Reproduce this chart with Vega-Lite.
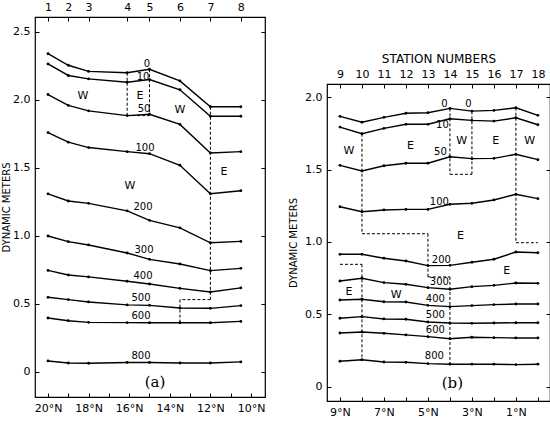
{
  "$schema": "https://vega.github.io/schema/vega-lite/v6.json",
  "padding": {"left": 0, "top": 0, "right": 0, "bottom": 0},
  "spacing": 20,
  "config": {
    "font": "DejaVu Sans",
    "view": {"stroke": "black", "strokeWidth": 1.2},
    "axis": {
      "domain": false,
      "grid": false,
      "tickColor": "black",
      "tickSize": -4,
      "tickWidth": 1,
      "labelColor": "black",
      "labelFont": "DejaVu Sans",
      "labelFontSize": 11,
      "labelPadding": 9,
      "titleFont": "DejaVu Sans",
      "titleFontSize": 10,
      "titleFontWeight": "normal",
      "titleColor": "black"
    }
  },
  "datasets": {
    "linesA": [
      {"depth": 0, "lat": 20, "dyn": 2.34}, {"depth": 0, "lat": 19, "dyn": 2.255}, {"depth": 0, "lat": 18, "dyn": 2.21}, {"depth": 0, "lat": 16.1, "dyn": 2.2}, {"depth": 0, "lat": 15, "dyn": 2.226}, {"depth": 0, "lat": 13.5, "dyn": 2.14}, {"depth": 0, "lat": 12, "dyn": 1.95}, {"depth": 0, "lat": 10.5, "dyn": 1.95},
      {"depth": 10, "lat": 20, "dyn": 2.265}, {"depth": 10, "lat": 19, "dyn": 2.18}, {"depth": 10, "lat": 18, "dyn": 2.155}, {"depth": 10, "lat": 16.1, "dyn": 2.13}, {"depth": 10, "lat": 15, "dyn": 2.15}, {"depth": 10, "lat": 13.5, "dyn": 2.075}, {"depth": 10, "lat": 12, "dyn": 1.88}, {"depth": 10, "lat": 10.5, "dyn": 1.88},
      {"depth": 50, "lat": 20, "dyn": 2.04}, {"depth": 50, "lat": 19, "dyn": 1.96}, {"depth": 50, "lat": 18, "dyn": 1.92}, {"depth": 50, "lat": 16.1, "dyn": 1.885}, {"depth": 50, "lat": 15, "dyn": 1.895}, {"depth": 50, "lat": 13.5, "dyn": 1.82}, {"depth": 50, "lat": 12, "dyn": 1.61}, {"depth": 50, "lat": 10.5, "dyn": 1.62},
      {"depth": 100, "lat": 20, "dyn": 1.76}, {"depth": 100, "lat": 19, "dyn": 1.69}, {"depth": 100, "lat": 18, "dyn": 1.65}, {"depth": 100, "lat": 16.1, "dyn": 1.62}, {"depth": 100, "lat": 15, "dyn": 1.605}, {"depth": 100, "lat": 13.5, "dyn": 1.52}, {"depth": 100, "lat": 12, "dyn": 1.31}, {"depth": 100, "lat": 10.5, "dyn": 1.333},
      {"depth": 200, "lat": 20, "dyn": 1.31}, {"depth": 200, "lat": 19, "dyn": 1.257}, {"depth": 200, "lat": 18, "dyn": 1.24}, {"depth": 200, "lat": 16.1, "dyn": 1.185}, {"depth": 200, "lat": 15, "dyn": 1.115}, {"depth": 200, "lat": 13.5, "dyn": 1.06}, {"depth": 200, "lat": 12, "dyn": 0.95}, {"depth": 200, "lat": 10.5, "dyn": 0.96},
      {"depth": 300, "lat": 20, "dyn": 1.0}, {"depth": 300, "lat": 19, "dyn": 0.958}, {"depth": 300, "lat": 18, "dyn": 0.934}, {"depth": 300, "lat": 16.1, "dyn": 0.875}, {"depth": 300, "lat": 15, "dyn": 0.828}, {"depth": 300, "lat": 13.5, "dyn": 0.794}, {"depth": 300, "lat": 12, "dyn": 0.745}, {"depth": 300, "lat": 10.5, "dyn": 0.762},
      {"depth": 400, "lat": 20, "dyn": 0.747}, {"depth": 400, "lat": 19, "dyn": 0.713}, {"depth": 400, "lat": 18, "dyn": 0.699}, {"depth": 400, "lat": 16.1, "dyn": 0.667}, {"depth": 400, "lat": 15, "dyn": 0.647}, {"depth": 400, "lat": 13.5, "dyn": 0.615}, {"depth": 400, "lat": 12, "dyn": 0.588}, {"depth": 400, "lat": 10.5, "dyn": 0.618},
      {"depth": 500, "lat": 20, "dyn": 0.549}, {"depth": 500, "lat": 19, "dyn": 0.532}, {"depth": 500, "lat": 18, "dyn": 0.515}, {"depth": 500, "lat": 16.1, "dyn": 0.493}, {"depth": 500, "lat": 15, "dyn": 0.49}, {"depth": 500, "lat": 13.5, "dyn": 0.47}, {"depth": 500, "lat": 12, "dyn": 0.468}, {"depth": 500, "lat": 10.5, "dyn": 0.488},
      {"depth": 600, "lat": 20, "dyn": 0.397}, {"depth": 600, "lat": 19, "dyn": 0.377}, {"depth": 600, "lat": 18, "dyn": 0.365}, {"depth": 600, "lat": 16.1, "dyn": 0.363}, {"depth": 600, "lat": 15, "dyn": 0.362}, {"depth": 600, "lat": 13.5, "dyn": 0.362}, {"depth": 600, "lat": 12, "dyn": 0.362}, {"depth": 600, "lat": 10.5, "dyn": 0.372},
      {"depth": 800, "lat": 20, "dyn": 0.081}, {"depth": 800, "lat": 19, "dyn": 0.066}, {"depth": 800, "lat": 18, "dyn": 0.064}, {"depth": 800, "lat": 16.1, "dyn": 0.07}, {"depth": 800, "lat": 15, "dyn": 0.07}, {"depth": 800, "lat": 13.5, "dyn": 0.066}, {"depth": 800, "lat": 12, "dyn": 0.066}, {"depth": 800, "lat": 10.5, "dyn": 0.074}
    ],
    "dashA": [
      {"lat": 16.1, "lat2": 16.1, "v": 2.2, "v2": 1.885},
      {"lat": 15, "lat2": 15, "v": 2.226, "v2": 1.895},
      {"lat": 16.1, "lat2": 15, "v": 1.885, "v2": 1.885},
      {"lat": 12, "lat2": 12, "v": 1.95, "v2": 0.532},
      {"lat": 12, "lat2": 13.5, "v": 0.532, "v2": 0.532},
      {"lat": 13.5, "lat2": 13.5, "v": 0.532, "v2": 0.362}
    ],
    "labelsA": [
      {"kind": "depth", "lat": 15.12, "dyn": 2.265, "text": "0"},
      {"kind": "depth", "lat": 15.32, "dyn": 2.17, "text": "10"},
      {"kind": "depth", "lat": 15.27, "dyn": 1.934, "text": "50"},
      {"kind": "depth", "lat": 15.22, "dyn": 1.647, "text": "100"},
      {"kind": "depth", "lat": 15.32, "dyn": 1.213, "text": "200"},
      {"kind": "depth", "lat": 15.27, "dyn": 0.897, "text": "300"},
      {"kind": "depth", "lat": 15.32, "dyn": 0.706, "text": "400"},
      {"kind": "depth", "lat": 15.42, "dyn": 0.544, "text": "500"},
      {"kind": "depth", "lat": 15.42, "dyn": 0.412, "text": "600"},
      {"kind": "depth", "lat": 15.42, "dyn": 0.118, "text": "800"},
      {"kind": "region", "lat": 18.28, "dyn": 2.03, "text": "W"},
      {"kind": "region", "lat": 15.47, "dyn": 2.03, "text": "E"},
      {"kind": "region", "lat": 13.5, "dyn": 1.926, "text": "W"},
      {"kind": "region", "lat": 15.96, "dyn": 1.365, "text": "W"},
      {"kind": "region", "lat": 11.33, "dyn": 1.47, "text": "E"},
      {"kind": "panel", "lat": 14.73, "dyn": -0.074, "text": "(a)"}
    ],
    "linesB": [
      {"depth": 0, "lat": 9, "dyn": 1.867}, {"depth": 0, "lat": 8, "dyn": 1.826}, {"depth": 0, "lat": 7, "dyn": 1.86}, {"depth": 0, "lat": 6, "dyn": 1.888}, {"depth": 0, "lat": 5, "dyn": 1.892}, {"depth": 0, "lat": 4, "dyn": 1.922}, {"depth": 0, "lat": 3, "dyn": 1.903}, {"depth": 0, "lat": 2, "dyn": 1.908}, {"depth": 0, "lat": 1, "dyn": 1.926}, {"depth": 0, "lat": 0, "dyn": 1.874},
      {"depth": 10, "lat": 9, "dyn": 1.793}, {"depth": 10, "lat": 8, "dyn": 1.747}, {"depth": 10, "lat": 7, "dyn": 1.784}, {"depth": 10, "lat": 6, "dyn": 1.812}, {"depth": 10, "lat": 5, "dyn": 1.812}, {"depth": 10, "lat": 4, "dyn": 1.85}, {"depth": 10, "lat": 3, "dyn": 1.839}, {"depth": 10, "lat": 2, "dyn": 1.834}, {"depth": 10, "lat": 1, "dyn": 1.857}, {"depth": 10, "lat": 0, "dyn": 1.809},
      {"depth": 50, "lat": 9, "dyn": 1.529}, {"depth": 50, "lat": 8, "dyn": 1.49}, {"depth": 50, "lat": 7, "dyn": 1.526}, {"depth": 50, "lat": 6, "dyn": 1.543}, {"depth": 50, "lat": 5, "dyn": 1.543}, {"depth": 50, "lat": 4, "dyn": 1.588}, {"depth": 50, "lat": 3, "dyn": 1.575}, {"depth": 50, "lat": 2, "dyn": 1.577}, {"depth": 50, "lat": 1, "dyn": 1.605}, {"depth": 50, "lat": 0, "dyn": 1.568},
      {"depth": 100, "lat": 9, "dyn": 1.243}, {"depth": 100, "lat": 8, "dyn": 1.209}, {"depth": 100, "lat": 7, "dyn": 1.221}, {"depth": 100, "lat": 6, "dyn": 1.225}, {"depth": 100, "lat": 5, "dyn": 1.225}, {"depth": 100, "lat": 4, "dyn": 1.26}, {"depth": 100, "lat": 3, "dyn": 1.267}, {"depth": 100, "lat": 2, "dyn": 1.29}, {"depth": 100, "lat": 1, "dyn": 1.329}, {"depth": 100, "lat": 0, "dyn": 1.299},
      {"depth": 200, "lat": 9, "dyn": 0.915}, {"depth": 200, "lat": 8, "dyn": 0.915}, {"depth": 200, "lat": 7, "dyn": 0.888}, {"depth": 200, "lat": 6, "dyn": 0.869}, {"depth": 200, "lat": 5, "dyn": 0.837}, {"depth": 200, "lat": 4, "dyn": 0.839}, {"depth": 200, "lat": 3, "dyn": 0.86}, {"depth": 200, "lat": 2, "dyn": 0.881}, {"depth": 200, "lat": 1, "dyn": 0.931}, {"depth": 200, "lat": 0, "dyn": 0.926},
      {"depth": 300, "lat": 9, "dyn": 0.731}, {"depth": 300, "lat": 8, "dyn": 0.75}, {"depth": 300, "lat": 7, "dyn": 0.72}, {"depth": 300, "lat": 6, "dyn": 0.708}, {"depth": 300, "lat": 5, "dyn": 0.685}, {"depth": 300, "lat": 4, "dyn": 0.674}, {"depth": 300, "lat": 3, "dyn": 0.692}, {"depth": 300, "lat": 2, "dyn": 0.701}, {"depth": 300, "lat": 1, "dyn": 0.717}, {"depth": 300, "lat": 0, "dyn": 0.715},
      {"depth": 400, "lat": 9, "dyn": 0.6}, {"depth": 400, "lat": 8, "dyn": 0.605}, {"depth": 400, "lat": 7, "dyn": 0.588}, {"depth": 400, "lat": 6, "dyn": 0.586}, {"depth": 400, "lat": 5, "dyn": 0.563}, {"depth": 400, "lat": 4, "dyn": 0.554}, {"depth": 400, "lat": 3, "dyn": 0.561}, {"depth": 400, "lat": 2, "dyn": 0.568}, {"depth": 400, "lat": 1, "dyn": 0.572}, {"depth": 400, "lat": 0, "dyn": 0.572},
      {"depth": 500, "lat": 9, "dyn": 0.474}, {"depth": 500, "lat": 8, "dyn": 0.485}, {"depth": 500, "lat": 7, "dyn": 0.469}, {"depth": 500, "lat": 6, "dyn": 0.467}, {"depth": 500, "lat": 5, "dyn": 0.448}, {"depth": 500, "lat": 4, "dyn": 0.441}, {"depth": 500, "lat": 3, "dyn": 0.439}, {"depth": 500, "lat": 2, "dyn": 0.441}, {"depth": 500, "lat": 1, "dyn": 0.443}, {"depth": 500, "lat": 0, "dyn": 0.443},
      {"depth": 600, "lat": 9, "dyn": 0.372}, {"depth": 600, "lat": 8, "dyn": 0.379}, {"depth": 600, "lat": 7, "dyn": 0.37}, {"depth": 600, "lat": 6, "dyn": 0.359}, {"depth": 600, "lat": 5, "dyn": 0.347}, {"depth": 600, "lat": 4, "dyn": 0.333}, {"depth": 600, "lat": 3, "dyn": 0.343}, {"depth": 600, "lat": 2, "dyn": 0.34}, {"depth": 600, "lat": 1, "dyn": 0.338}, {"depth": 600, "lat": 0, "dyn": 0.338},
      {"depth": 800, "lat": 9, "dyn": 0.177}, {"depth": 800, "lat": 8, "dyn": 0.188}, {"depth": 800, "lat": 7, "dyn": 0.172}, {"depth": 800, "lat": 6, "dyn": 0.17}, {"depth": 800, "lat": 5, "dyn": 0.161}, {"depth": 800, "lat": 4, "dyn": 0.157}, {"depth": 800, "lat": 3, "dyn": 0.157}, {"depth": 800, "lat": 2, "dyn": 0.157}, {"depth": 800, "lat": 1, "dyn": 0.154}, {"depth": 800, "lat": 0, "dyn": 0.157}
    ],
    "dashB": [
      {"lat": 8, "lat2": 8, "v": 1.747, "v2": 1.057},
      {"lat": 8, "lat2": 5, "v": 1.057, "v2": 1.057},
      {"lat": 5, "lat2": 5, "v": 1.057, "v2": 0.759},
      {"lat": 5, "lat2": 4, "v": 0.759, "v2": 0.759},
      {"lat": 4, "lat2": 4, "v": 0.759, "v2": 0.157},
      {"lat": 4, "lat2": 4, "v": 1.922, "v2": 1.467},
      {"lat": 4, "lat2": 3, "v": 1.467, "v2": 1.467},
      {"lat": 3, "lat2": 3, "v": 1.467, "v2": 1.903},
      {"lat": 1, "lat2": 1, "v": 1.926, "v2": 0.995},
      {"lat": 1, "lat2": 0, "v": 0.995, "v2": 0.995},
      {"lat": 9, "lat2": 8, "v": 0.846, "v2": 0.846},
      {"lat": 8, "lat2": 8, "v": 0.846, "v2": 0.19}
    ],
    "labelsB": [
      {"kind": "depth", "lat": 4.25, "dyn": 1.954, "text": "0"},
      {"kind": "depth", "lat": 3.16, "dyn": 1.954, "text": "0"},
      {"kind": "depth", "lat": 4.34, "dyn": 1.807, "text": "10"},
      {"kind": "depth", "lat": 4.43, "dyn": 1.621, "text": "50"},
      {"kind": "depth", "lat": 4.48, "dyn": 1.278, "text": "100"},
      {"kind": "depth", "lat": 4.39, "dyn": 0.876, "text": "200"},
      {"kind": "depth", "lat": 4.48, "dyn": 0.726, "text": "300"},
      {"kind": "depth", "lat": 4.66, "dyn": 0.607, "text": "400"},
      {"kind": "depth", "lat": 4.66, "dyn": 0.497, "text": "500"},
      {"kind": "depth", "lat": 4.66, "dyn": 0.393, "text": "600"},
      {"kind": "depth", "lat": 4.71, "dyn": 0.214, "text": "800"},
      {"kind": "region", "lat": 8.59, "dyn": 1.628, "text": "W"},
      {"kind": "region", "lat": 5.8, "dyn": 1.662, "text": "E"},
      {"kind": "region", "lat": 3.47, "dyn": 1.697, "text": "W"},
      {"kind": "region", "lat": 1.92, "dyn": 1.697, "text": "E"},
      {"kind": "region", "lat": 0.37, "dyn": 1.697, "text": "W"},
      {"kind": "region", "lat": 3.52, "dyn": 1.041, "text": "E"},
      {"kind": "region", "lat": 1.42, "dyn": 0.8, "text": "E"},
      {"kind": "region", "lat": 8.59, "dyn": 0.657, "text": "E"},
      {"kind": "region", "lat": 6.44, "dyn": 0.634, "text": "W"},
      {"kind": "panel", "lat": 3.89, "dyn": 0.03, "text": "(b)"}
    ]
  },
  "hconcat": [
    {
      "width": 230,
      "height": 380,
      "layer": [
        {
          "data": {"name": "linesA"},
          "mark": {"type": "line", "color": "black", "strokeWidth": 1.4, "point": {"filled": true, "size": 8, "color": "black"}},
          "encoding": {
            "x": {"field": "lat", "type": "quantitative", "scale": {"domain": [20.64, 9.31], "nice": false, "zero": false},
                  "axis": {"orient": "bottom", "title": null, "values": [20, 19, 18, 17, 16, 15, 14, 13, 12, 11, 10],
                           "labelExpr": "datum.value % 2 == 0 ? datum.value + '°N' : ''"}},
            "y": {"field": "dyn", "type": "quantitative", "scale": {"domain": [-0.184, 2.61], "nice": false, "zero": false},
                  "axis": {"orient": "left", "title": "DYNAMIC METERS", "titlePadding": 1, "values": [0, 0.5, 1, 1.5, 2, 2.5],
                           "labelExpr": "datum.value == 0 ? '0' : format(datum.value, '.1f')"}},
            "detail": {"field": "depth"}
          }
        },
        {
          "data": {"name": "dashA"},
          "mark": {"type": "rule", "color": "black", "strokeWidth": 1, "strokeDash": [3, 2]},
          "encoding": {
            "x": {"field": "lat", "type": "quantitative", "scale": {"domain": [20.64, 9.31], "nice": false, "zero": false},
                  "axis": {"orient": "top", "title": null, "values": [20, 19, 18, 16.1, 15, 13.5, 12, 10.5],
                           "labelExpr": "indexof([20, 19, 18, 16.1, 15, 13.5, 12, 10.5], datum.value) + 1"}},
            "x2": {"field": "lat2"},
            "y": {"field": "v", "type": "quantitative", "scale": {"domain": [-0.184, 2.61], "nice": false, "zero": false},
                  "axis": {"orient": "right", "title": null, "labels": false, "values": [0, 0.5, 1, 1.5, 2, 2.5]}},
            "y2": {"field": "v2"}
          }
        },
        {
          "data": {"name": "labelsA"},
          "transform": [{"filter": "datum.kind == 'depth'"}],
          "mark": {"type": "text", "fontSize": 10, "color": "black"},
          "encoding": {
            "x": {"field": "lat", "type": "quantitative", "axis": null},
            "y": {"field": "dyn", "type": "quantitative", "axis": null},
            "text": {"field": "text"}
          }
        },
        {
          "data": {"name": "labelsA"},
          "transform": [{"filter": "datum.kind == 'region'"}],
          "mark": {"type": "text", "fontSize": 11, "color": "black"},
          "encoding": {
            "x": {"field": "lat", "type": "quantitative", "axis": null},
            "y": {"field": "dyn", "type": "quantitative", "axis": null},
            "text": {"field": "text"}
          }
        },
        {
          "data": {"name": "labelsA"},
          "transform": [{"filter": "datum.kind == 'panel'"}],
          "mark": {"type": "text", "fontSize": 15, "font": "DejaVu Serif", "color": "black"},
          "encoding": {
            "x": {"field": "lat", "type": "quantitative", "axis": null},
            "y": {"field": "dyn", "type": "quantitative", "axis": null},
            "text": {"field": "text"}
          }
        }
      ],
      "resolve": {"axis": {"x": "independent", "y": "independent"}}
    },
    {
      "spacing": 0,
      "vconcat": [
        {
          "width": 223,
          "height": 34,
          "view": {"stroke": null},
          "data": {"values": []},
          "mark": {"type": "rule"},
          "encoding": {}
        },
        {
          "width": 223,
          "height": 317,
          "layer": [
            {
              "data": {"name": "linesB"},
              "mark": {"type": "line", "color": "black", "strokeWidth": 1.4, "point": {"filled": true, "size": 8, "color": "black"}},
              "encoding": {
                "x": {"field": "lat", "type": "quantitative", "scale": {"domain": [9.59, -0.55], "nice": false, "zero": false},
                      "axis": {"orient": "bottom", "title": null, "values": [9, 8, 7, 6, 5, 4, 3, 2, 1, 0],
                               "labelExpr": "datum.value % 2 == 1 ? datum.value + '°N' : ''"}},
                "y": {"field": "dyn", "type": "quantitative", "scale": {"domain": [-0.097, 2.09], "nice": false, "zero": false},
                      "axis": {"orient": "left", "title": "DYNAMIC METERS", "titlePadding": 6, "values": [0, 0.5, 1, 1.5, 2],
                               "labelExpr": "datum.value == 0 ? '0' : format(datum.value, '.1f')"}},
                "detail": {"field": "depth"}
              }
            },
            {
              "data": {"name": "dashB"},
              "mark": {"type": "rule", "color": "black", "strokeWidth": 1, "strokeDash": [3, 2]},
              "encoding": {
                "x": {"field": "lat", "type": "quantitative", "scale": {"domain": [9.59, -0.55], "nice": false, "zero": false},
                      "axis": {"orient": "top", "title": "STATION NUMBERS", "titleFontSize": 12, "titlePadding": 3,
                               "values": [9, 8, 7, 6, 5, 4, 3, 2, 1, 0], "labelExpr": "18 - datum.value"}},
                "x2": {"field": "lat2"},
                "y": {"field": "v", "type": "quantitative", "scale": {"domain": [-0.097, 2.09], "nice": false, "zero": false},
                      "axis": {"orient": "right", "title": null, "labels": false, "values": [0, 0.5, 1, 1.5, 2]}},
                "y2": {"field": "v2"}
              }
            },
            {
              "data": {"name": "labelsB"},
              "transform": [{"filter": "datum.kind == 'depth'"}],
              "mark": {"type": "text", "fontSize": 10, "color": "black"},
              "encoding": {
                "x": {"field": "lat", "type": "quantitative", "axis": null},
                "y": {"field": "dyn", "type": "quantitative", "axis": null},
                "text": {"field": "text"}
              }
            },
            {
              "data": {"name": "labelsB"},
              "transform": [{"filter": "datum.kind == 'region'"}],
              "mark": {"type": "text", "fontSize": 11, "color": "black"},
              "encoding": {
                "x": {"field": "lat", "type": "quantitative", "axis": null},
                "y": {"field": "dyn", "type": "quantitative", "axis": null},
                "text": {"field": "text"}
              }
            },
            {
              "data": {"name": "labelsB"},
              "transform": [{"filter": "datum.kind == 'panel'"}],
              "mark": {"type": "text", "fontSize": 15, "font": "DejaVu Serif", "color": "black"},
              "encoding": {
                "x": {"field": "lat", "type": "quantitative", "axis": null},
                "y": {"field": "dyn", "type": "quantitative", "axis": null},
                "text": {"field": "text"}
              }
            }
          ],
          "resolve": {"axis": {"x": "independent", "y": "independent"}}
        }
      ]
    }
  ]
}
